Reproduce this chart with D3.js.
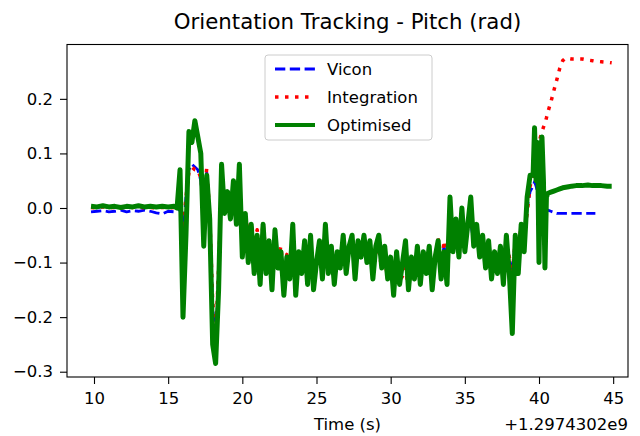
<!DOCTYPE html>
<html>
<head>
<meta charset="utf-8">
<script src="https://cdn.jsdelivr.net/npm/d3@7"></script>
<style>
  body { margin: 0; background: #fff; }
  text { font-family: "DejaVu Sans", sans-serif; fill: #000; }
</style>
</head>
<body>
<svg></svg>
<script>
// time in seconds, offset by +1.2974302e9
var time = [
  9.8, 10.2, 10.6, 11.0, 11.4, 11.8, 12.2, 12.6, 13.0, 13.4, 13.8, 14.2, 14.6, 15.0, 15.4,
  15.6, 15.8, 16.0, 16.2, 16.4,  16.6, 16.8, 17.0, 17.2, 17.4,
  17.6, 17.8, 18.0, 18.2, 18.4,  18.6, 18.8, 19.0, 19.2, 19.4,
  19.6, 19.8, 20.0, 20.2, 20.4,  20.6, 20.8, 21.0, 21.2, 21.4,
  21.6, 21.8, 22.0, 22.2, 22.4,  22.6, 22.8, 23.0, 23.2, 23.4,
  23.6, 23.8, 24.0, 24.2, 24.4,  24.6, 24.8, 25.0, 25.2, 25.4,
  25.6, 25.8, 26.0, 26.2, 26.4,  26.6, 26.8, 27.0, 27.2, 27.4,
  27.6, 27.8, 28.0, 28.2, 28.4,  28.6, 28.8, 29.0, 29.2, 29.4,
  29.6, 29.8, 30.0, 30.2, 30.4,  30.6, 30.8, 31.0, 31.2, 31.4,
  31.6, 31.8, 32.0, 32.2, 32.4,  32.6, 32.8, 33.0, 33.2, 33.4,
  33.6, 33.8, 34.0, 34.2, 34.4,  34.6, 34.8, 35.0, 35.2, 35.4,
  35.6, 35.8, 36.0, 36.2, 36.4,  36.6, 36.8, 37.0, 37.2, 37.4,
  37.6, 37.8, 38.0, 38.2, 38.4,  38.6, 38.8, 39.0, 39.2, 39.4,
  39.6,
  39.7, 39.8, 39.9, 40.0, 40.1, 40.2, 40.3, 40.4, 40.5, 40.6,
  40.8, 41.0, 41.2, 41.4, 41.6, 41.8, 42.0, 42.2, 42.5, 42.9, 43.3, 43.6, 43.8, 44.2, 44.6, 44.9
];

var vicon = [
  -0.007, -0.006, -0.005, -0.007, -0.006, -0.004, -0.007, -0.005, -0.006, -0.004, -0.006, -0.009, -0.011, -0.006, -0.007,
  -0.006, 0.00, -0.05, 0.02, 0.07,  0.08, 0.075, 0.07, 0.05, 0.00,
  0.066, -0.02, -0.18, -0.25, -0.12,  0.04, 0.00, 0.02, 0.00, 0.02,
  0.005, 0.015, -0.017, -0.02, -0.05,  -0.04, -0.07, -0.05, -0.08, -0.053,
  -0.09, -0.07, -0.10, -0.08, -0.09,  -0.08, -0.12, -0.09, -0.10, -0.08,
  -0.12, -0.09, -0.10, -0.08, -0.11,  -0.07, -0.12, -0.09, -0.08, -0.11,
  -0.075, -0.10, -0.08, -0.12, -0.09,  -0.10, -0.077, -0.10, -0.08, -0.07,
  -0.10, -0.068, -0.07, -0.068, -0.08,  -0.07, -0.10, -0.08, -0.075, -0.10,
  -0.09, -0.11, -0.10, -0.12, -0.10,  -0.12, -0.11, -0.10, -0.13, -0.10,
  -0.11, -0.09, -0.11, -0.09, -0.10,  -0.08, -0.12, -0.09, -0.06, -0.10,
  -0.07, -0.10, -0.04, -0.06, -0.04,  -0.07, -0.03, -0.06, -0.04, -0.03,
  -0.06, -0.05, -0.07, -0.06, -0.085,  -0.07, -0.10, -0.08, -0.09, -0.08,
  -0.10, -0.07, -0.09, -0.12, -0.06,  -0.08, -0.03, -0.05, 0.00, 0.03,
  0.04,
  0.048, 0.04, 0.03, 0.02, 0.01, 0.005, 0.0, -0.002, -0.004, -0.004,
  -0.006, -0.008, -0.01, -0.01, -0.01, -0.01, -0.01, -0.01, -0.01, -0.01, -0.01, -0.01, -0.01, null, null, null
];

var integration = [
  0.001, 0.000, 0.002, 0.001, 0.001, 0.000, 0.002, 0.001, 0.002, 0.000, 0.001, 0.000, 0.001, 0.000, 0.001,
  0.0, 0.005, -0.04, 0.02, 0.065,  0.075, 0.07, 0.07, 0.055, 0.01,
  0.073, -0.01, -0.17, -0.24, -0.11,  0.045, 0.005, 0.02, 0.00, 0.025,
  0.0, 0.02, -0.01, -0.015, -0.045,  -0.03, -0.065, -0.04, -0.085, -0.028,
  -0.09, -0.065, -0.11, -0.075, -0.095,  -0.07, -0.13, -0.085, -0.11, -0.07,
  -0.125, -0.09, -0.105, -0.075, -0.12,  -0.065, -0.13, -0.095, -0.075, -0.115,
  -0.07, -0.11, -0.08, -0.13, -0.09,  -0.10, -0.07, -0.11, -0.08, -0.07,
  -0.11, -0.07, -0.075, -0.07, -0.085,  -0.075, -0.11, -0.085, -0.08, -0.11,
  -0.10, -0.125, -0.115, -0.138, -0.11,  -0.135, -0.125, -0.11, -0.147, -0.11,
  -0.12, -0.095, -0.12, -0.095, -0.105,  -0.08, -0.13, -0.09, -0.055, -0.11,
  -0.06, -0.105, -0.04, -0.055, -0.03,  -0.065, -0.02, -0.055, -0.035, -0.02,
  -0.05, -0.045, -0.07, -0.06, -0.09,  -0.07, -0.10, -0.08, -0.095, -0.08,
  -0.105, -0.07, -0.09, -0.12, -0.06,  -0.08, -0.03, -0.05, -0.01, 0.04,
  0.06,
  0.09, 0.10, 0.11, 0.12, 0.13, 0.14, 0.148, 0.155, 0.165, 0.176,
  0.194, 0.215, 0.235, 0.256, 0.27, 0.275, 0.274, 0.273, 0.273, 0.273, 0.271, 0.27, 0.269, 0.268, 0.267, 0.266
];

var optimised = [
  0.003, 0.002, 0.004, 0.002, 0.003, 0.001, 0.003, 0.002, 0.004, 0.002, 0.003, 0.002, 0.003, 0.002, 0.003,
  0.00, 0.07, -0.20, -0.05, 0.14,  0.12, 0.16, 0.13, 0.10, -0.07,
  0.06, -0.02, -0.25, -0.285, -0.15,  0.08, -0.01, 0.03, -0.02, 0.05,
  -0.03, 0.08, -0.09, -0.01, -0.10,  -0.03, -0.12, -0.05, -0.14, -0.03,
  -0.12, -0.06, -0.15, -0.04, -0.11,  -0.08, -0.16, -0.09, -0.13, -0.03,
  -0.16, -0.08, -0.12, -0.06, -0.14,  -0.05, -0.15, -0.10, -0.06, -0.13,
  -0.03, -0.12, -0.07, -0.14, -0.08,  -0.11, -0.05, -0.12, -0.07, -0.05,
  -0.13, -0.06, -0.09, -0.05, -0.10,  -0.06, -0.13, -0.07, -0.05, -0.11,
  -0.07, -0.13, -0.09, -0.16, -0.08,  -0.14, -0.10, -0.06, -0.15, -0.09,
  -0.13, -0.07, -0.14, -0.08, -0.12,  -0.07, -0.15, -0.09, -0.06, -0.13,
  -0.08, -0.14, 0.02, -0.08, -0.02,  -0.09, 0.00, -0.08, -0.03, 0.02,
  -0.07, -0.03, -0.09, -0.05, -0.11,  -0.06, -0.13, -0.08, -0.12, -0.07,
  -0.14, -0.05, -0.12, -0.23, -0.05,  -0.12, -0.03, -0.08, 0.02, 0.06,
  0.06,
  0.147, 0.05, 0.12, -0.10, 0.10, 0.13, 0.05, -0.11, 0.02, 0.027,
  0.029, 0.031, 0.033, 0.035, 0.037, 0.038, 0.039, 0.040, 0.041, 0.041, 0.042, 0.041, 0.041, 0.041, 0.040, 0.040
];

var xTicks = [10, 15, 20, 25, 30, 35, 40, 45];
var yTicks = [-0.3, -0.2, -0.1, 0.0, 0.1, 0.2];
var seriesNames = ["Vicon", "Integration", "Optimised"];

var width = 640, height = 436;
var margin = { top: 44.5, right: 12, bottom: 59, left: 67 };
var plotW = width - margin.left - margin.right;
var plotH = height - margin.top - margin.bottom;

var svg = d3.select("svg").attr("width", width).attr("height", height);

var x = d3.scaleLinear().domain([8.18, 46.0]).range([0, plotW]);
var y = d3.scaleLinear().domain([-0.3097, 0.2996]).range([plotH, 0]);

var g = svg.append("g").attr("transform", "translate(" + margin.left + "," + margin.top + ")");

g.append("defs").append("clipPath").attr("id", "clip")
  .append("rect").attr("width", plotW).attr("height", plotH);

var plot = g.append("g").attr("clip-path", "url(#clip)");

function lineFor(values) {
  return d3.line()
    .defined(function(d, i) { return values[i] !== null; })
    .x(function(d, i) { return x(time[i]); })
    .y(function(d, i) { return y(values[i]); });
}

var styles = [
  { values: vicon, color: "#0000ff", width: 2.8, dash: "10.3,4.5" },
  { values: integration, color: "#ff0000", width: 3.5, dash: "3.5,6.5" },
  { values: optimised, color: "#008000", width: 5, dash: null }
];

styles.forEach(function(s) {
  plot.append("path")
    .datum(s.values)
    .attr("d", lineFor(s.values))
    .attr("fill", "none")
    .attr("stroke", s.color)
    .attr("stroke-width", s.width)
    .attr("stroke-linejoin", "round")
    .attr("stroke-dasharray", s.dash);
});

// axes
var xAxis = d3.axisBottom(x).tickValues(xTicks).tickFormat(d3.format("d"))
  .tickSize(7).tickPadding(8.5).tickSizeOuter(0);
var yAxis = d3.axisLeft(y).tickValues(yTicks).tickFormat(d3.format(".1f"))
  .tickSize(7).tickPadding(7).tickSizeOuter(0);

var gx = g.append("g").attr("transform", "translate(0," + plotH + ")").call(xAxis);
var gy = g.append("g").call(yAxis);
[gx, gy].forEach(function(a) {
  a.select(".domain").remove();
  a.selectAll("line").attr("stroke", "#000").attr("stroke-width", 1.1);
  a.selectAll("text").style("font-size", "16.5px").style("font-family", "DejaVu Sans").attr("fill", "#000");
});

g.append("rect")
  .attr("width", plotW).attr("height", plotH)
  .attr("fill", "none").attr("stroke", "#000").attr("stroke-width", 1.1);

// title and labels
svg.append("text")
  .attr("x", margin.left + plotW / 2).attr("y", 29)
  .attr("text-anchor", "middle").style("font-size", "21.3px")
  .text("Orientation Tracking - Pitch (rad)");

svg.append("text")
  .attr("x", margin.left + plotW / 2).attr("y", 430)
  .attr("text-anchor", "middle").style("font-size", "16.5px")
  .text("Time (s)");

svg.append("text")
  .attr("x", margin.left + plotW).attr("y", 430)
  .attr("text-anchor", "end").style("font-size", "16.5px")
  .text("+1.2974302e9");

// legend
var legend = svg.append("g").attr("transform", "translate(265,55)");
legend.append("rect")
  .attr("width", 167).attr("height", 85).attr("rx", 3)
  .attr("fill", "#fff").attr("fill-opacity", 0.8)
  .attr("stroke", "#cccccc").attr("stroke-width", 1);

styles.forEach(function(s, i) {
  var ly = 14 + i * 28;
  legend.append("line")
    .attr("x1", 10).attr("x2", 50).attr("y1", ly).attr("y2", ly)
    .attr("stroke", s.color).attr("stroke-width", s.width === 5 ? 4 : s.width)
    .attr("stroke-dasharray", s.dash);
  legend.append("text")
    .attr("x", 62).attr("y", ly + 6)
    .style("font-size", "16.5px")
    .text(seriesNames[i]);
});
</script>
</body>
</html>
